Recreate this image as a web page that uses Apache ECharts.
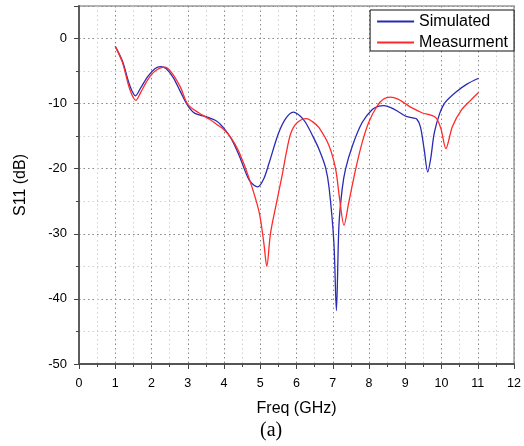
<!DOCTYPE html>
<html>
<head>
<meta charset="utf-8">
<script src="https://cdn.jsdelivr.net/npm/echarts@6/dist/echarts.min.js"></script>
<style>html,body{margin:0;padding:0;background:#fff}#c{width:524px;height:446px}</style>
</head>
<body>
<div id="c"></div>
<script>
const xTicks = [0,1,2,3,4,5,6,7,8,9,10,11,12];
const yTicks = [-50,-40,-30,-20,-10,0];
const seriesNames = ['Simulated','Measurment'];
const simulated = [
[1.0,-1.2],[1.2,-3.5],[1.4,-7.2],[1.56,-8.8],[1.7,-7.6],[1.9,-5.8],[2.1,-4.6],[2.25,-4.3],[2.4,-4.6],[2.6,-6.0],[2.8,-8.2],[3.0,-10.3],[3.2,-11.5],[3.5,-12.0],[3.8,-12.7],[4.0,-13.8],[4.2,-15.4],[4.42,-18.0],[4.7,-21.8],[4.93,-22.8],[5.1,-21.5],[5.25,-19.0],[5.5,-14.6],[5.7,-12.3],[5.91,-11.3],[6.1,-11.9],[6.25,-12.9],[6.45,-15.0],[6.62,-17.0],[6.8,-19.8],[6.9,-23.0],[7.03,-31.3],[7.1,-41.8],[7.17,-28.7],[7.26,-23.1],[7.35,-20.1],[7.54,-16.5],[7.81,-12.9],[8.09,-10.9],[8.27,-10.4],[8.41,-10.3],[8.6,-10.6],[8.8,-11.2],[9.0,-11.9],[9.2,-12.2],[9.32,-12.4],[9.42,-13.6],[9.52,-17.0],[9.62,-20.5],[9.7,-18.5],[9.8,-14.5],[9.95,-11.5],[10.1,-9.8],[10.4,-8.2],[10.7,-7.0],[11.02,-6.1]
];
const measurment = [
[1.0,-1.2],[1.2,-3.7],[1.4,-7.8],[1.57,-9.5],[1.7,-8.3],[1.9,-6.3],[2.1,-5.0],[2.36,-4.4],[2.55,-5.2],[2.8,-7.5],[3.0,-10.1],[3.3,-11.4],[3.6,-12.4],[3.8,-13.2],[4.0,-14.0],[4.2,-15.3],[4.42,-17.5],[4.7,-21.6],[4.97,-26.7],[5.1,-31.5],[5.18,-35.0],[5.28,-30.0],[5.43,-25.7],[5.6,-21.1],[5.72,-17.5],[5.84,-14.6],[6.0,-13.0],[6.27,-12.3],[6.45,-12.8],[6.62,-13.7],[6.9,-16.5],[7.08,-20.1],[7.19,-24.7],[7.31,-28.7],[7.44,-25.2],[7.63,-20.1],[7.81,-16.0],[7.99,-12.9],[8.22,-10.4],[8.4,-9.3],[8.59,-9.0],[8.8,-9.3],[9.0,-10.0],[9.2,-10.7],[9.46,-11.4],[9.83,-12.1],[9.98,-13.8],[10.12,-16.9],[10.3,-13.5],[10.56,-10.9],[10.8,-9.5],[11.02,-8.3]
];

const chart = echarts.init(document.getElementById('c'), null, {renderer:'canvas'});
const grid = {left:79, right:8, top:6, bottom:82, show:true, borderColor:'#9a9a9a', borderWidth:1.5, backgroundColor:'#fff'};
const font = 'Liberation Sans, Arial';
chart.setOption({
  animation:false,
  backgroundColor:'#fff',
  grid: grid,
  legend: {
    data: seriesNames,
    orient:'vertical', right:10, top:10,
    backgroundColor:'#fff',
    borderColor:'#111', borderWidth:1,
    padding:[3,6,0,7],
    itemWidth:37, itemHeight:2, itemGap:4,
    icon:'rect',
    textStyle:{fontFamily:font, fontSize:16, color:'#000', lineHeight:17}
  },
  xAxis: {
    type:'value', min:xTicks[0], max:xTicks[xTicks.length-1], interval:1,
    name:'Freq (GHz)', nameLocation:'middle', nameGap:37,
    nameTextStyle:{fontFamily:font, fontSize:16, color:'#000'},
    axisLine:{show:true, onZero:false, lineStyle:{color:'#555', width:1.8}},
    axisTick:{show:true, inside:false, length:5, lineStyle:{color:'#444', width:1}},
    minorTick:{show:true, splitNumber:2, length:3, lineStyle:{color:'#444', width:1}},
    axisLabel:{margin:13, fontFamily:font, fontSize:12.5, color:'#000'},
    splitLine:{show:true, lineStyle:{color:'#8a8a8a', type:[1.5,3], width:1}},
    minorSplitLine:{show:true, lineStyle:{color:'#cfcfcf', type:[1.5,3], width:1}}
  },
  yAxis: [{
    type:'value', position:'left', offset:0, min:yTicks[0], max:5, interval:5,
    axisLine:{show:false, onZero:false},
    axisTick:{show:true, length:3, lineStyle:{color:'#444'}},
    axisLabel:{show:false},
    splitLine:{show:true, lineStyle:{color:'#cfcfcf', type:[1.5,3], width:1}}
  },{
    type:'value', position:'left', offset:0, min:yTicks[0], max:5, interval:10,
    name:'S11 (dB)', nameLocation:'middle', nameGap:50,
    nameTextStyle:{fontFamily:font, fontSize:16, color:'#000'},
    axisLine:{show:true, onZero:false, lineStyle:{color:'#555', width:1.8}},
    axisTick:{show:true, length:5, lineStyle:{color:'#444'}},
    axisLabel:{margin:12, fontFamily:font, fontSize:13, color:'#000',
      formatter: v => (yTicks.indexOf(v) >= 0 ? String(v) : '')},
    splitLine:{show:true, lineStyle:{color:'#8a8a8a', type:[1.5,3], width:1}}
  }],
  graphic: [{
    type:'text', left:260, top:421,
    style:{text:'(a)', font:'20px "Liberation Serif", "Times New Roman", serif', fill:'#000'}
  }],
  series: [{
    name:seriesNames[0], type:'line', yAxisIndex:1, data:simulated, smooth:0.3,
    showSymbol:false, symbol:'none', color:'#2a2ab4',
    lineStyle:{width:1.3, color:'#2a2ab4'}
  },{
    name:seriesNames[1], type:'line', yAxisIndex:1, data:measurment, smooth:0.3,
    showSymbol:false, symbol:'none', color:'#ff2b2b',
    lineStyle:{width:1.3, color:'#ff2b2b'}
  }]
});
</script>
</body>
</html>
